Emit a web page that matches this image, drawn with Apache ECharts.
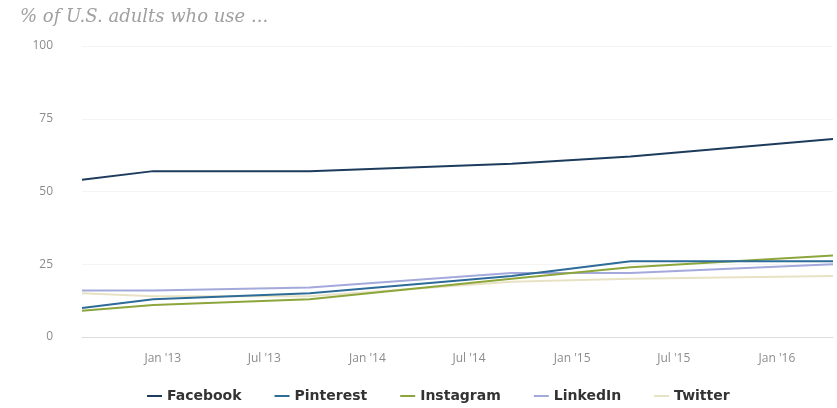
<!DOCTYPE html>
<html>
<head>
<meta charset="utf-8">
<script src="https://cdn.jsdelivr.net/npm/echarts@6/dist/echarts.min.js"></script>
<style>
html,body{margin:0;padding:0;background:#fff;}
#c{width:837px;height:408px;}
</style>
</head>
<body>
<div id="c"></div>
<script>
// Survey dates
var dates = ['2012-08-10', '2012-12-15', '2013-09-20', '2014-09-15', '2015-04-15', '2016-04-10'];
// Series values (% of U.S. adults)
var facebook  = [54, 57, 57, 59.5, 62, 68];
var pinterest = [10, 13, 15, 21, 26, 26];
var instagram = [9, 11, 13, 20, 24, 28];
var linkedin  = [16, 16, 17, 22, 22, 25];
var twitter   = [15, 14, 14, 19, 20, 21];
// X tick labels
var tickDates  = ['2013-01-01', '2013-07-01', '2014-01-01', '2014-07-01', '2015-01-01', '2015-07-01', '2016-01-01'];
var tickLabels = ["Jan '13", "Jul '13", "Jan '14", "Jul '14", "Jan '15", "Jul '15", "Jan '16"];
var yTicks = [0, 25, 50, 75, 100];

function ts(d){ return new Date(d + 'T00:00:00Z').getTime(); }
function pairs(vals){ return dates.map(function(d,i){ return [ts(d), vals[i]]; }); }

var names  = ['Facebook', 'Pinterest', 'Instagram', 'LinkedIn', 'Twitter'];
var values = [facebook, pinterest, instagram, linkedin, twitter];
var colors = ['#1d3b5c', '#2d6b98', '#8ca63c', '#a4a9dc', '#e8e2c4'];
var tickTs = tickDates.map(ts);

var chart = echarts.init(document.getElementById('c'));
chart.setOption({
  animation: false,
  title: {
    text: '% of U.S. adults who use ...',
    left: 15, top: 3,
    textStyle: { fontFamily: 'DejaVu Serif', fontStyle: 'italic', fontWeight: 'normal', fontSize: 18, color: '#a0a0a0' }
  },
  grid: { left: 82, right: 4, top: 46, bottom: 71 },
  legend: {
    bottom: 0, left: 142,
    itemWidth: 15, itemHeight: 2, itemGap: 33,
    icon: 'rect',
    textStyle: { fontFamily: 'DejaVu Sans', fontWeight: 'bold', fontSize: 14, color: '#333' },
    data: names
  },
  xAxis: {
    type: 'value',
    min: ts(dates[0]), max: ts(dates[dates.length - 1]),
    axisLine: { show: true, lineStyle: { color: '#dcdcdc', width: 1 } },
    axisTick: { show: false },
    splitLine: { show: false },
    axisLabel: {
      customValues: tickTs,
      margin: 16,
      fontFamily: 'Open Sans', fontSize: 12, color: '#8c8c8c',
      formatter: function(v){ var i = tickTs.indexOf(v); return i >= 0 ? tickLabels[i] : ''; }
    }
  },
  yAxis: {
    type: 'value', min: 0, max: 100, interval: 25,
    axisLine: { show: false }, axisTick: { show: false },
    splitLine: { show: true, lineStyle: { color: '#f4f4f4', width: 1 } },
    axisLabel: {
      margin: 29, align: 'right',
      fontFamily: 'Open Sans', fontSize: 12, color: '#8c8c8c',
      formatter: function(v){ return yTicks.indexOf(v) >= 0 ? String(v) : ''; }
    }
  },
  series: names.map(function(n, i){
    return {
      name: n, type: 'line', data: pairs(values[i]),
      symbol: 'none', smooth: false,
      lineStyle: { color: colors[i], width: 2 },
      itemStyle: { color: colors[i] },
      z: 10 - i
    };
  })
});
</script>
</body>
</html>
